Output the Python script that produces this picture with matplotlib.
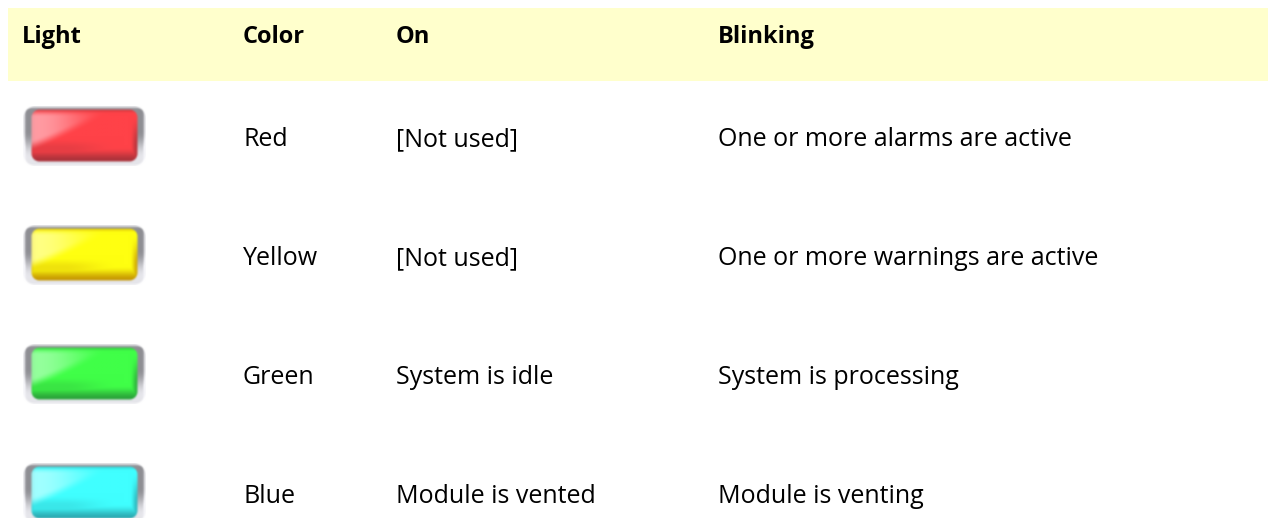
import numpy as np
import matplotlib
matplotlib.use('Agg')
import matplotlib.pyplot as plt
from matplotlib.colors import to_rgb
from matplotlib.patches import Rectangle

headers = ['Light', 'Color', 'On', 'Blinking']
colors = ['Red', 'Yellow', 'Green', 'Blue']
on_text = ['[Not used]', '[Not used]', 'System is idle', 'Module is vented']
blink_text = ['One or more alarms are active', 'One or more warnings are active',
              'System is processing', 'Module is venting']
base_colors = ['#ff4248', '#ffff10', '#40ff48', '#40ffff']
dark_colors = ['#a03038', '#c08c00', '#289838', '#28a0a8']
light_colors = ['#ffb8c0', '#ffffa8', '#b0ffb8', '#c0ffff']

col_x = [22, 243, 396, 718]
header_base = 43
row_base = [146, 265, 384, 503]
icon_top = [106, 225, 344, 463]
FONT = 'Open Sans'


def smooth(a, lo, hi):
    t = np.clip((a - lo) / (hi - lo), 0, 1)
    return t * t * (3 - 2 * t)


def rrect(xx, yy, x0, y0, x1, y1, r):
    # signed distance of a rounded box, negative inside
    cx, cy = (x0 + x1) / 2, (y0 + y1) / 2
    qx = np.abs(xx - cx) - ((x1 - x0) / 2 - r)
    qy = np.abs(yy - cy) - ((y1 - y0) / 2 - r)
    return np.hypot(np.maximum(qx, 0), np.maximum(qy, 0)) + np.minimum(np.maximum(qx, qy), 0) - r


def light_image(base, dark, light):
    w, h = 123, 60
    yy, xx = np.mgrid[0:h:45j, 0:w:92j]
    b, d, l = [np.array(to_rgb(c))[None, None, :] for c in (base, dark, light)]

    # body of the lamp
    u = np.clip((xx - 8) / 107, 0, 1)
    v = np.clip((yy - 3) / 53, 0, 1)
    shade = 0.9 * smooth(v, 0.72, 1.0)
    shade = np.maximum(shade, 0.75 * smooth(u, 0.93, 1.0) * smooth(v, 0.1, 0.7))
    shade = np.maximum(shade, 0.4 * (1 - smooth(v, 0.0, 0.08)))
    shade = np.maximum(shade, 0.4 * (1 - smooth(u, 0.0, 0.05)))
    shade = np.maximum(shade, 0.25 * smooth(v, 0.55, 0.75) * (1 - smooth(u, 0.3, 0.85)))
    body = b * (1 - shade[..., None]) + d * shade[..., None]
    curve = 0.72 - 0.95 * u ** 1.1
    glow = smooth(curve - v, -0.08, 0.14) * (1 - smooth(u, 0.05, 0.75)) * smooth(v, -0.02, 0.14)
    body = body * (1 - glow[..., None] * 0.75) + l * glow[..., None] * 0.75

    # grey rim, light at the bottom
    g = 0.56 + 0.34 * smooth(yy, 25, 52)
    g = g + 0.3 * (1 - smooth(xx, 0, 3)) + 0.3 * smooth(xx, w - 3, w)
    g = np.clip(g + 0.22 * (1 - smooth(yy, 0, 3)), 0, 0.95)
    rim = np.stack([g, g, g + 0.02], axis=-1).clip(0, 1)

    inner = (1 - smooth(rrect(xx, yy, 8, 3, 115, 56, 8), -1, 1))[..., None]
    rgb = rim * (1 - inner) + body * inner
    alpha = (1 - smooth(rrect(xx, yy, 0, 0, w, h, 11), -1, 1))[..., None]
    return np.concatenate([rgb, alpha], axis=-1)


fig = plt.figure(figsize=(12.68, 5.18), dpi=100)
ax = fig.add_axes([0, 0, 1, 1])
ax.add_patch(Rectangle((8, 8), 1260, 73, fc='#ffffcc', ec='none'))

for x, t in zip(col_x, headers):
    ax.text(x, header_base, t, fontsize=17, fontweight='bold', family=FONT, va='baseline', color='black')

for i in range(4):
    img = light_image(base_colors[i], dark_colors[i], light_colors[i])
    ax.imshow(img, extent=(23, 146, icon_top[i] + 60, icon_top[i]), aspect='auto', interpolation='bicubic')
    ax.text(col_x[1], row_base[i], colors[i], fontsize=18, family=FONT, va='baseline', color='black')
    ax.text(col_x[2], row_base[i], on_text[i], fontsize=18, family=FONT, va='baseline', color='black')
    ax.text(col_x[3], row_base[i], blink_text[i], fontsize=18, family=FONT, va='baseline', color='black')

ax.set_xlim(0, 1268)
ax.set_ylim(518, 0)
ax.axis('off')
fig.savefig('out.png', dpi=100)
